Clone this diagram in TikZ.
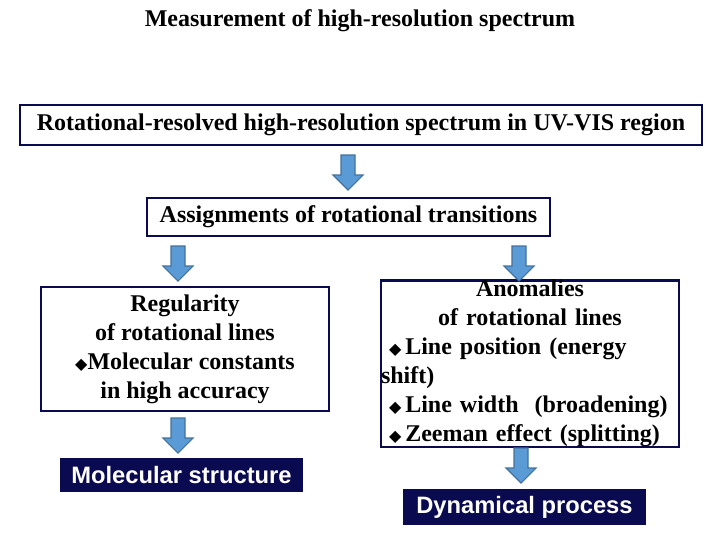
\documentclass[tikz,border=0pt]{standalone}
\usepackage{fontspec}
\setmainfont{Liberation Serif}
\setsansfont{Liberation Sans}
\newfontfamily\dejavu{DejaVu Sans}
\definecolor{navy}{HTML}{0A0A50}
\definecolor{arrfill}{HTML}{5B9BD5}
\definecolor{arrline}{HTML}{41719C}
\newcommand{\dia}{{\dejavu\fontsize{12}{12}\selectfont ◆}}
\tikzset{
 box/.style={draw=navy,line width=2.2pt,fill=white,inner sep=0pt,font=\bfseries\fontsize{18}{21.75}\selectfont,align=center},
 dark/.style={fill=navy,text=white,inner sep=0pt,font=\sffamily\bfseries\fontsize{17.8}{20}\selectfont},
 pics/downarr/.style={code={
  \draw[fill=arrfill,draw=arrline,line width=0.8pt] (-7,0)--(7,0)--(7,20)--(15,20)--(0,35)--(-15,20)--(-7,20)--cycle;}}
}
\begin{document}
\begin{tikzpicture}[x=0.75pt,y=-0.75pt]
\useasboundingbox (0,0) rectangle (720,540);
\node[font=\bfseries\fontsize{18}{20}\selectfont] (title) at (360,21) {Measurement of high-resolution spectrum};
\node[box,minimum width=682*0.75pt,minimum height=40*0.75pt] (top) at (361,125) {Rotational-resolved high-resolution spectrum in UV-VIS region};
\node[box,minimum width=403*0.75pt,minimum height=38*0.75pt] (assign) at (348.5,217) {Assignments of rotational transitions};
\node[box,minimum width=288*0.75pt,minimum height=124*0.75pt] (left) at (185,349) {Regularity\\of rotational lines\\\dia Molecular constants\\in high accuracy};
\node[box,align=left,text width=298*0.75pt,minimum height=153*0.75pt] (right) at (530,363.5) {\makebox[\linewidth]{Anomalies}\\\makebox[\linewidth]{of rotational lines}\\\hspace*{6pt}\dia\,Line position (energy shift)\\\hspace*{6pt}\dia\,Line width\ \ (broadening)\\\hspace*{6pt}\dia\,Zeeman effect (splitting)};
\node[dark,minimum width=243*0.75pt,minimum height=34*0.75pt] (mol) at (181.5,475) {Molecular structure};
\node[dark,minimum width=243*0.75pt,minimum height=36*0.75pt] (dyn) at (524.5,507) {Dynamical process};
\pic at (348,155) {downarr};
\pic at (178,246) {downarr};
\pic at (519,246) {downarr};
\pic at (178,418) {downarr};
\pic at (521,448) {downarr};
\end{tikzpicture}
\end{document}
